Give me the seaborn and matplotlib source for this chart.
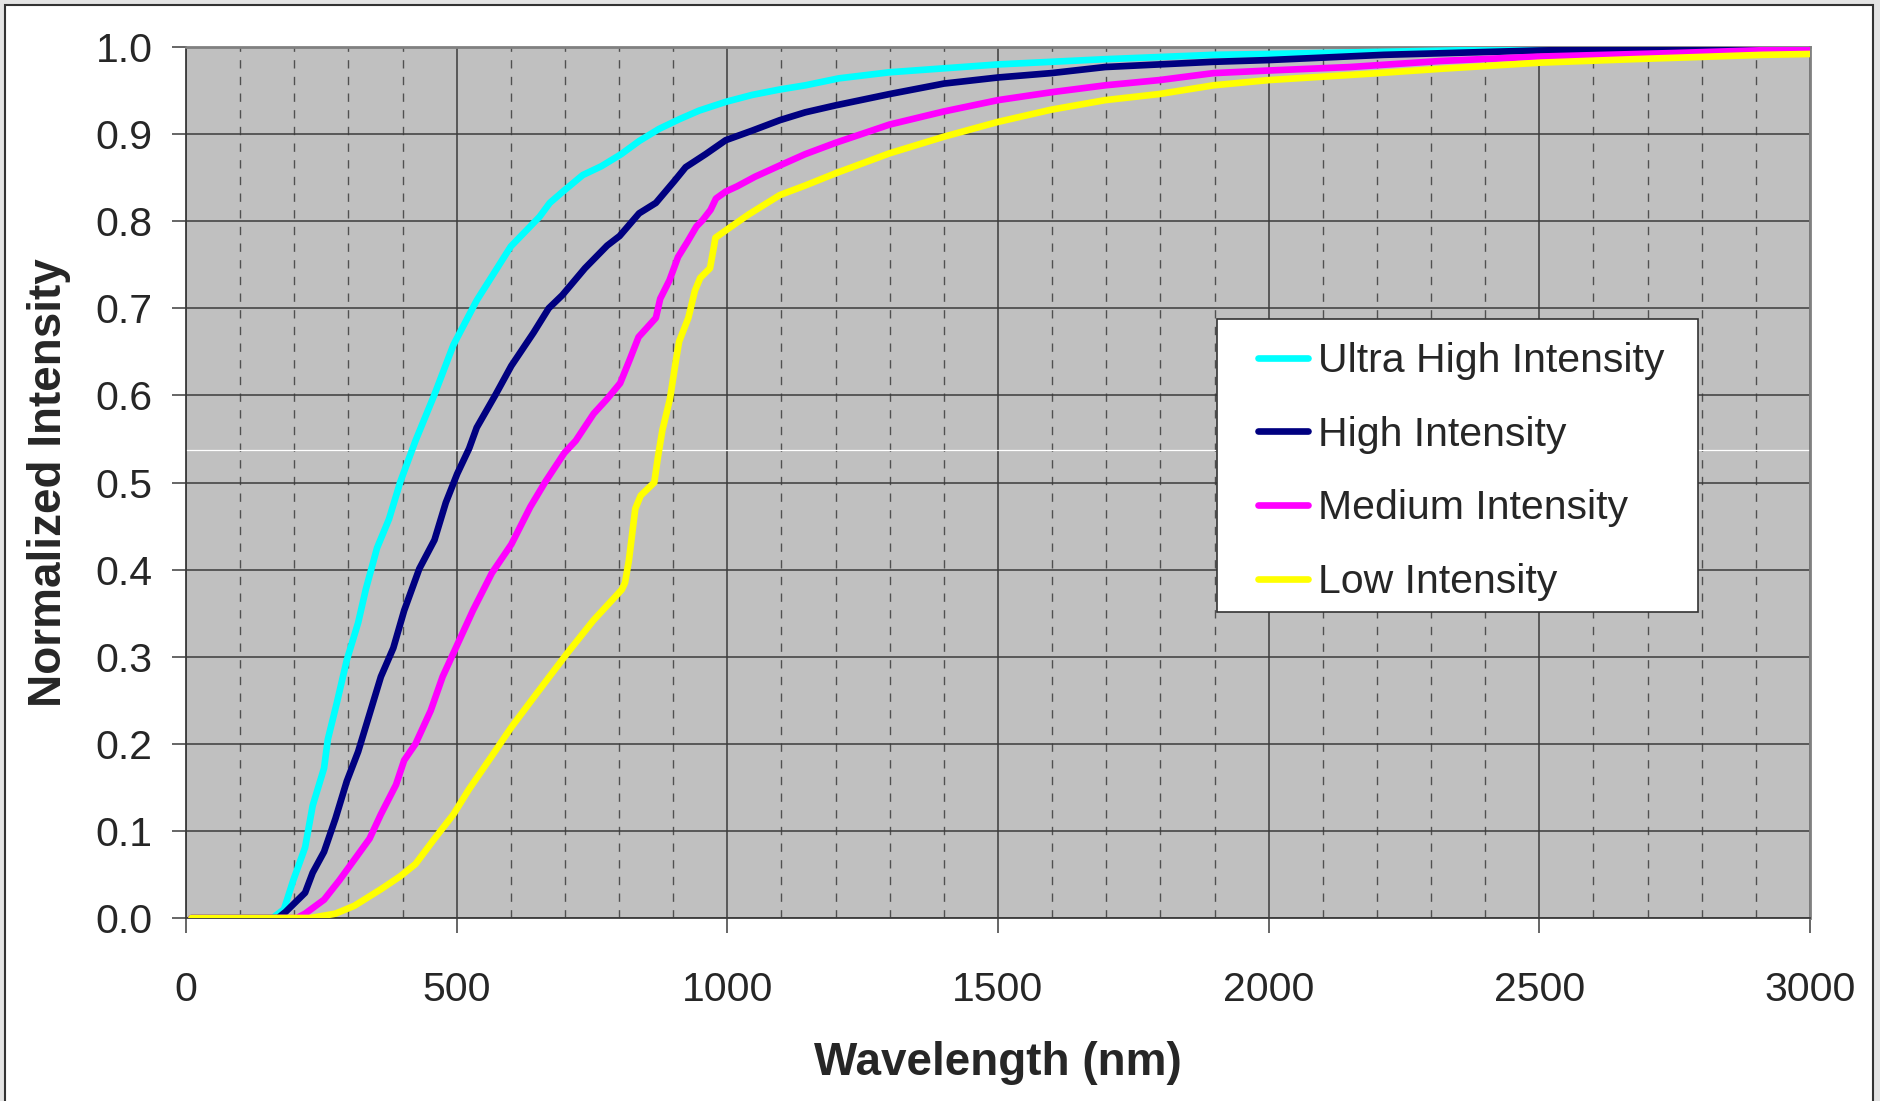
"""
Normalized intensity vs wavelength for four lamp intensity settings
"""

import numpy as np
import pandas as pd
import matplotlib
matplotlib.use("Agg")
import matplotlib.pyplot as plt
import seaborn as sns
from matplotlib.patches import Rectangle
from matplotlib.ticker import MultipleLocator

# data
series_names = ["Ultra High Intensity", "High Intensity", "Medium Intensity", "Low Intensity"]
series_colors = ["#00ffff", "#000080", "#ff00ff", "#ffff00"]

wl_ultra = [10, 160, 181, 198, 220, 234, 255, 262, 279, 297, 318, 332, 353, 375, 396,
            424, 459, 494, 537, 600, 653, 672, 700, 733, 767, 804, 837, 874, 911, 948,
            997, 1046, 1095, 1144, 1206, 1300, 1500, 1698, 1898, 2000, 2255, 2500, 2650, 3000]
int_ultra = [0, 0, 0.01, 0.043, 0.081, 0.129, 0.172, 0.205, 0.248, 0.296, 0.339, 0.377,
             0.425, 0.458, 0.501, 0.548, 0.601, 0.658, 0.709, 0.771, 0.805, 0.821, 0.836,
             0.853, 0.863, 0.877, 0.892, 0.906, 0.917, 0.927, 0.937, 0.945, 0.951, 0.956,
             0.964, 0.971, 0.980, 0.986, 0.991, 0.992, 0.995, 0.998, 1.0, 1.0]

wl_high = [10, 170, 184, 220, 234, 255, 276, 297, 318, 339, 360, 383, 403, 431, 459, 480,
           501, 523, 537, 572, 601, 642, 670, 695, 737, 778, 801, 837, 868, 902, 923, 960,
           997, 1046, 1097, 1144, 1200, 1300, 1400, 1500, 1598, 1698, 1798, 1898, 2000,
           2213, 2500, 2828, 3000]
int_high = [0, 0, 0.007, 0.029, 0.052, 0.076, 0.114, 0.157, 0.191, 0.234, 0.277, 0.31,
            0.353, 0.401, 0.434, 0.477, 0.51, 0.539, 0.563, 0.601, 0.634, 0.672, 0.70,
            0.715, 0.746, 0.772, 0.783, 0.809, 0.821, 0.846, 0.862, 0.877, 0.893, 0.904,
            0.916, 0.925, 0.933, 0.946, 0.958, 0.965, 0.970, 0.977, 0.980, 0.983, 0.985,
            0.991, 0.996, 0.999, 1.0]

wl_med = [10, 205, 220, 255, 283, 311, 339, 360, 388, 403, 424, 452, 474, 502, 530, 565,
          601, 636, 664, 699, 720, 753, 778, 802, 819, 836, 868, 876, 893, 909, 926, 943,
          954, 969, 979, 997, 1018, 1051, 1097, 1144, 1200, 1300, 1400, 1500, 1598, 1698,
          1798, 1898, 2000, 2150, 2319, 2500, 2744, 3000]
int_med = [0, 0, 0.005, 0.021, 0.043, 0.067, 0.091, 0.119, 0.153, 0.181, 0.2, 0.238, 0.277,
           0.315, 0.353, 0.396, 0.429, 0.472, 0.501, 0.534, 0.548, 0.579, 0.596, 0.614,
           0.64, 0.667, 0.689, 0.711, 0.732, 0.759, 0.776, 0.794, 0.801, 0.813, 0.826,
           0.834, 0.840, 0.851, 0.864, 0.877, 0.890, 0.911, 0.926, 0.939, 0.948, 0.956,
           0.962, 0.970, 0.973, 0.977, 0.984, 0.989, 0.993, 0.998]

wl_low = [10, 230, 276, 311, 360, 396, 424, 459, 494, 523, 565, 601, 636, 670, 703, 753,
          805, 811, 818, 830, 840, 865, 872, 880, 894, 905, 911, 928, 940, 950, 968, 975,
          978, 1003, 1040, 1097, 1144, 1200, 1300, 1400, 1500, 1598, 1698, 1798, 1898,
          2000, 2178, 2319, 2500, 2673, 2913, 3000]
int_low = [0, 0, 0.005, 0.014, 0.033, 0.048, 0.062, 0.091, 0.119, 0.148, 0.186, 0.219,
           0.248, 0.276, 0.303, 0.342, 0.377, 0.385, 0.41, 0.47, 0.485, 0.50, 0.53, 0.56,
           0.596, 0.64, 0.662, 0.689, 0.72, 0.735, 0.746, 0.77, 0.781, 0.792, 0.808, 0.830,
           0.841, 0.855, 0.878, 0.897, 0.914, 0.928, 0.939, 0.946, 0.956, 0.962, 0.969,
           0.975, 0.982, 0.986, 0.991, 0.992]

x_ticks = [0, 500, 1000, 1500, 2000, 2500, 3000]
y_ticks = [0.0, 0.1, 0.2, 0.3, 0.4, 0.5, 0.6, 0.7, 0.8, 0.9, 1.0]

frames = []
for name, wl, val in zip(series_names,
                         [wl_ultra, wl_high, wl_med, wl_low],
                         [int_ultra, int_high, int_med, int_low]):
    frames.append(pd.DataFrame({"wavelength": wl, "intensity": val, "series": name}))
df = pd.concat(frames, ignore_index=True)

sns.set_style("white")
plt.rcParams["font.family"] = ["Liberation Sans", "DejaVu Sans"]

W, H = 1881, 1101
fig = plt.figure(figsize=(W / 100, H / 100), dpi=100, facecolor="#e4e4e4")
# white chart area with dark frame, like the spreadsheet chart object
frame = Rectangle((5 / W, -0.01), 1868 / W, 1 - 5 / H + 0.01,
                  transform=fig.transFigure, facecolor="white",
                  edgecolor="#333333", linewidth=1.5, zorder=-10)
fig.add_artist(frame)

ax = fig.add_axes([186 / W, 1 - 918 / H, 1624 / W, 871 / H])
ax.set_zorder(1)
ax.set_facecolor("#c0c0c0")

sns.lineplot(data=df, x="wavelength", y="intensity", hue="series",
             hue_order=series_names, palette=series_colors, sort=False,
             estimator=None, linewidth=4.8, ax=ax, zorder=3)

ax.set_xlim(0, 3000)
ax.set_ylim(0, 1.0)
ax.set_xticks(x_ticks)
ax.set_yticks(y_ticks)
ax.set_yticklabels([f"{v:.1f}" for v in y_ticks])
ax.xaxis.set_minor_locator(MultipleLocator(100))

ax.grid(which="major", axis="both", color="#3c3c3c", linewidth=1.1, linestyle="-", zorder=1)
ax.grid(which="minor", axis="x", color="#505050", linewidth=1.0, linestyle=(0, (6, 6)), zorder=1)
ax.set_axisbelow(True)
# thin white stripe visible across the plot area in the reference
ax.axhline(0.537, color="white", linewidth=0.9, zorder=2)

ax.tick_params(axis="y", which="major", direction="out", length=10, width=1.1,
               color="#3c3c3c", labelsize=29.5, pad=14, left=True)
ax.tick_params(axis="x", which="major", direction="out", length=11, width=1.1,
               color="#3c3c3c", labelsize=29.5, pad=27, bottom=True)
ax.tick_params(axis="x", which="minor", length=0)
for side in ["left", "bottom"]:
    ax.spines[side].set_color("#3c3c3c")
    ax.spines[side].set_linewidth(1.3)
for side in ["top", "right"]:
    ax.spines[side].set_color("#808080")
    ax.spines[side].set_linewidth(2)

ax.set_xlabel("Wavelength (nm)", fontsize=33, fontweight="bold", labelpad=23)
ax.set_ylabel("Normalized Intensity", fontsize=33, fontweight="bold", labelpad=18)

# legend box drawn separately so its padding can match the reference
legend_box = Rectangle((1217 / W, 1 - 612 / H), 481 / W, 293 / H,
                       transform=fig.transFigure, facecolor="white",
                       edgecolor="#333333", linewidth=1.2, zorder=4.5)
ax.add_artist(legend_box)

leg = ax.legend(loc="upper left", bbox_to_anchor=(1258 / W, 1 - 342 / H),
                bbox_transform=fig.transFigure, fontsize=29.5, frameon=False,
                handlelength=1.22, handletextpad=0.24, labelspacing=0.87,
                borderpad=0, borderaxespad=0)
leg.set_zorder(5)
for line in leg.get_lines():
    line.set_linewidth(4.8)

fig.savefig("out.png", dpi=100, facecolor=fig.get_facecolor())
